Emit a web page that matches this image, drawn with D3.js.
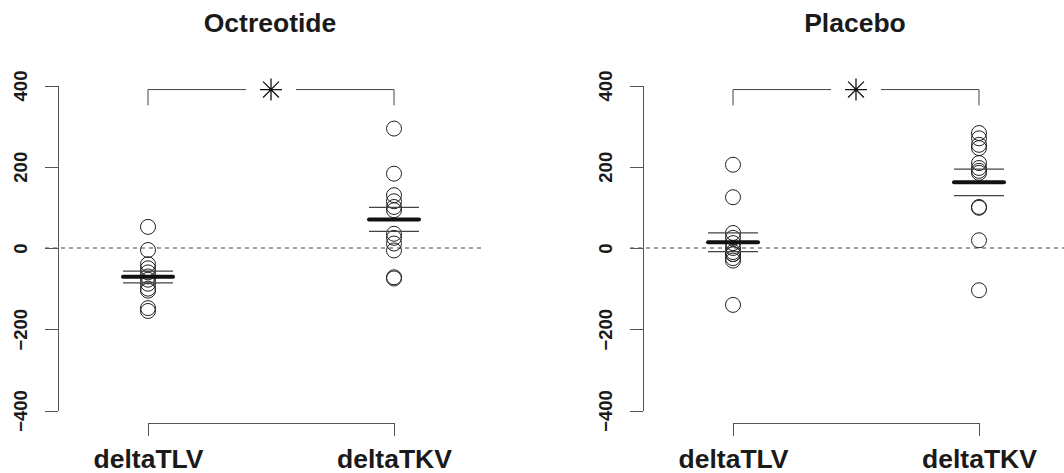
<!DOCTYPE html>
<meta charset="utf-8">
<style>
  body { margin: 0; background: #fff; }
  svg { font-family: "Liberation Sans", Arial, Helvetica, sans-serif; font-weight: bold; }
  .axis path, .axis line { fill: none; stroke: #555; shape-rendering: crispEdges; }
  .axis text { fill: #1a1a1a; font-weight: bold; }
</style>
<body>
<script src="https://cdn.jsdelivr.net/npm/d3@7"></script>
<script>
  var categories = ["deltaTLV", "deltaTKV"];
  var yTicks = [-400, -200, 0, 200, 400];
  var panelTitles = ["Octreotide", "Placebo"];

  // individual changes
  var octTLV = [52, -5, -40, -50, -60, -70, -78, -88, -100, -105, -148, -155];
  var octTKV = [294, 183, 130, 115, 101, 93, 35, 25, 11, -6, -72, -75];
  var plaTLV = [205, 125, 37, 25, 12, 0, -10, -15, -15, -25, -31, -140];
  var plaTKV = [283, 270, 254, 246, 209, 197, 190, 185, 101, 99, 19, -104];

  // mean and the lines either side of it (mean ± SE)
  var octMean = [-71, 70], octLow = [-86, 41], octHigh = [-57, 100];
  var plaMean = [14, 162], plaLow = [-9, 129], plaHigh = [37, 194];

  var sigLevel = 390, sigDrop = 351;

  var panels = [
    {title: panelTitles[0], values: [octTLV, octTKV], mean: octMean, lo: octLow, hi: octHigh, dx: 0},
    {title: panelTitles[1], values: [plaTLV, plaTKV], mean: plaMean, lo: plaLow, hi: plaHigh, dx: 585}
  ];

  var width = 1064, height = 473;
  var svg = d3.select("body").append("svg")
    .attr("width", width)
    .attr("height", height);

  var y = d3.scaleLinear().domain([-400, 400]).range([410.5, 85.5]);
  var x = d3.scalePoint().domain(categories).range([148, 394]);
  var axisX = 58, plotLeft = 45, plotRight = 485;

  panels.forEach(function(p) {
    var g = svg.append("g").attr("transform", "translate(" + p.dx + ",0)");

    g.append("text")
      .attr("x", 270).attr("y", 32)
      .attr("text-anchor", "middle")
      .style("font-size", "26.5px")
      .style("fill", "#1a1a1a")
      .text(p.title);

    // zero reference line
    g.append("line")
      .attr("x1", plotLeft).attr("x2", plotRight)
      .attr("y1", y(0)).attr("y2", y(0))
      .style("stroke", "#444")
      .style("stroke-dasharray", "4,4");

    var ya = g.append("g")
      .attr("class", "axis")
      .attr("transform", "translate(" + axisX + ",0)")
      .call(d3.axisLeft(y).tickValues(yTicks).tickSize(13).tickSizeOuter(0).tickFormat(d3.format("d")));
    ya.selectAll("text")
      .attr("x", 0).attr("y", 0).attr("dy", 0)
      .attr("text-anchor", "middle")
      .attr("transform", "translate(-31,0) rotate(-90)")
      .style("font-size", "18.5px")
      .text(function(d) { return d < 0 ? "\u2212" + Math.abs(d) : d; });

    var xa = g.append("g")
      .attr("class", "axis")
      .attr("transform", "translate(0,423)")
      .call(d3.axisBottom(x).tickSize(13).tickSizeOuter(0));
    xa.selectAll("text")
      .attr("y", 45).attr("dy", 0)
      .style("font-size", "26.5px");

    // significance bracket
    var xa0 = x(categories[0]), xa1 = x(categories[1]), mid = (xa0 + xa1) / 2;
    g.append("path")
      .attr("d", "M" + xa0 + "," + y(sigDrop) + "V" + y(sigLevel) + "H" + (mid - 25))
      .style("fill", "none").style("stroke", "#444");
    g.append("path")
      .attr("d", "M" + (mid + 25) + "," + y(sigLevel) + "H" + xa1 + "V" + y(sigDrop))
      .style("fill", "none").style("stroke", "#444");
    var r = 11, cy = y(sigLevel), k = r * 0.72;
    g.append("path")
      .attr("d", "M" + (mid - r) + "," + cy + "H" + (mid + r) +
        "M" + mid + "," + (cy - r) + "V" + (cy + r) +
        "M" + (mid - k) + "," + (cy - k) + "L" + (mid + k) + "," + (cy + k) +
        "M" + (mid - k) + "," + (cy + k) + "L" + (mid + k) + "," + (cy - k))
      .style("fill", "none").style("stroke", "#111").style("stroke-width", 1.3);

    categories.forEach(function(c, i) {
      var cx = x(c);
      g.selectAll(null)
        .data(p.values[i])
        .enter().append("circle")
        .attr("cx", cx)
        .attr("cy", function(d) { return y(d); })
        .attr("r", 7.5)
        .style("fill", "none")
        .style("stroke", "#222")
        .style("stroke-width", 1);

      [p.lo[i], p.hi[i]].forEach(function(v) {
        g.append("line")
          .attr("x1", cx - 25).attr("x2", cx + 25)
          .attr("y1", y(v)).attr("y2", y(v))
          .style("stroke", "#444").style("stroke-width", 1.3);
      });
      g.append("line")
        .attr("x1", cx - 25).attr("x2", cx + 25)
        .attr("y1", y(p.mean[i])).attr("y2", y(p.mean[i]))
        .style("stroke", "#111").style("stroke-width", 4)
        .style("stroke-linecap", "round");
    });
  });
</script>
</body>
